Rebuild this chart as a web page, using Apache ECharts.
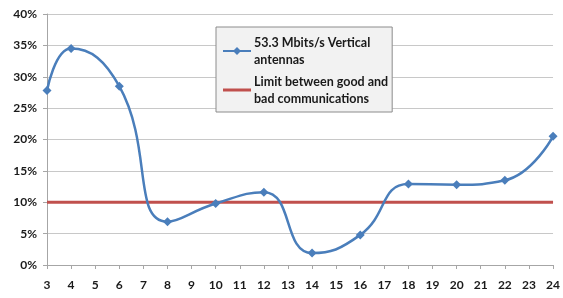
<!DOCTYPE html>
<html>
<head>
<meta charset="utf-8">
<script src="https://cdn.jsdelivr.net/npm/echarts@6/dist/echarts.min.js"></script>
<style>
  html, body { margin: 0; padding: 0; background: #fff; }
  #chart { width: 563px; height: 298px; }
</style>
</head>
<body>
<div id="chart"></div>
<script>
// distance values and measured percentages
const distances = [3, 4, 6, 8, 10, 12, 14, 16, 18, 20, 22, 24]
const verticalAntennas = [27.8, 34.5, 28.5, 6.9, 9.8, 11.6, 1.9, 4.8, 12.9, 12.8, 13.5, 20.5]
const limitX = [3, 24]
const limitValue = [10, 10]

const chart = echarts.init(document.getElementById('chart'))
const font = 'Lato, "Open Sans", sans-serif'

const options = {
  animation: false,
  grid: { left: 47, right: 6, top: 14, bottom: 33 },
  legend: {
    orient: 'vertical',
    left: 216,
    top: 27,
    padding: [9, 4, 7, 6],
    itemGap: 9,
    itemWidth: 28,
    itemHeight: 10,
    backgroundColor: '#f2f2f2',
    borderColor: '#8c8c8c',
    borderWidth: 1,
    textStyle: {
      fontFamily: font,
      fontWeight: 'bold',
      fontSize: 12.5,
      color: '#1a1a1a',
      lineHeight: 17,
      verticalAlign: 'top',
      padding: [-9, 0, 0, -2]
    },
    data: [
      { name: '53.3 Mbits/s Vertical\nantennas' },
      {
        name: 'Limit between good and\nbad communications',
        icon: 'path://M0,0 L28,0 L28,3 L0,3 Z'
      }
    ]
  },
  xAxis: {
    type: 'value',
    min: 3,
    max: 24,
    interval: 1,
    splitLine: { show: false },
    axisLine: { lineStyle: { color: '#a6a6a6' } },
    axisTick: { show: true, length: 4, lineStyle: { color: '#a6a6a6' } },
    axisLabel: {
      margin: 14,
      fontFamily: font,
      fontWeight: 'bold',
      fontSize: 12,
      color: '#1a1a1a'
    }
  },
  yAxis: {
    type: 'value',
    min: 0,
    max: 40,
    interval: 5,
    axisLine: { show: true, lineStyle: { color: '#a6a6a6' } },
    axisTick: { show: true, length: 4, lineStyle: { color: '#a6a6a6' } },
    splitLine: { lineStyle: { color: '#c8c8c8', width: 1 } },
    axisLabel: {
      margin: 10,
      formatter: '{value}%',
      fontFamily: font,
      fontWeight: 'bold',
      fontSize: 12,
      color: '#1a1a1a'
    }
  },
  series: [
    {
      name: '53.3 Mbits/s Vertical\nantennas',
      type: 'line',
      smooth: 0.5,
      symbol: 'diamond',
      symbolSize: 9,
      itemStyle: { color: '#4a7ebb' },
      lineStyle: { color: '#4a7ebb', width: 2.5 },
      data: distances.map((d, i) => [d, verticalAntennas[i]]),
      z: 3
    },
    {
      name: 'Limit between good and\nbad communications',
      type: 'line',
      symbol: 'none',
      itemStyle: { color: '#c0504d' },
      lineStyle: { color: '#c0504d', width: 3 },
      data: limitX.map((d, i) => [d, limitValue[i]]),
      z: 2
    }
  ]
}
chart.setOption(options)
</script>
</body>
</html>
